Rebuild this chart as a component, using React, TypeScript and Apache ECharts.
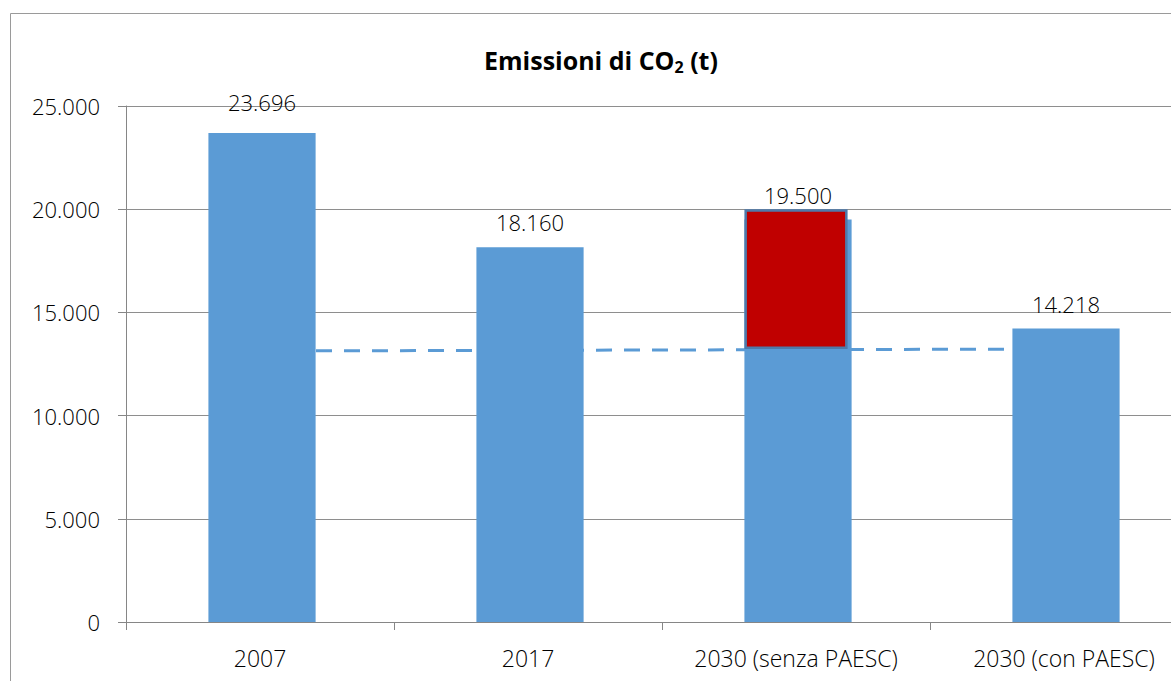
import React, { useEffect, useRef } from "react";
import * as echarts from "echarts";

const categories = ["2007", "2017", "2030 (senza PAESC)", "2030 (con PAESC)"];
const emissions = [23696, 18160, 19500, 14218];
const reductionBase = [null, null, 13230, null];
const reductionSize = [null, null, 6770, null];
const trendLine = [13130, null, null, 13227];
const yMin = 0;
const yMax = 25000;
const yStep = 5000;

const fmt = (n: number) => String(Math.round(n)).replace(/\B(?=(\d{3})+(?!\d))/g, ".");
const FONT = "'Open Sans', 'Liberation Sans', sans-serif";

export default function App() {
  const ref = useRef<HTMLDivElement>(null);
  useEffect(() => {
    if (!ref.current) return;
    const chart = echarts.init(ref.current, null, { renderer: "svg" });
    chart.setOption({
      animation: false,
      backgroundColor: "#ffffff",
      textStyle: { fontFamily: FONT },
      graphic: [
        {
          type: "rect",
          shape: { x: 10.5, y: 13.5, width: 1400, height: 900 },
          style: { fill: "none", stroke: "#9a9a9a", lineWidth: 1 },
          silent: true,
        },
        {
          type: "text",
          x: 601,
          y: 60,
          style: {
            text: "{a|Emissioni di CO}{s|2}{a| (t)}",
            align: "center",
            verticalAlign: "middle",
            rich: {
              a: { fontFamily: FONT, fontSize: 25, fontWeight: "bold", fill: "#000", lineHeight: 32 },
              s: { fontFamily: FONT, fontSize: 16, fontWeight: "bold", fill: "#000", padding: [14, 0, 0, 0], lineHeight: 32 },
            },
          },
        },
      ],
      grid: { left: 126, right: 42, top: 106, bottom: 98, containLabel: false },
      xAxis: {
        type: "category",
        data: categories,
        axisLine: { show: true, lineStyle: { color: "#868686", width: 1 } },
        axisTick: { show: true, length: 8, lineStyle: { color: "#868686" } },
        axisLabel: { margin: 24, fontSize: 23, color: "#000", fontFamily: FONT, fontWeight: 300, interval: 0 },
      },
      yAxis: {
        type: "value",
        min: yMin,
        max: yMax,
        interval: yStep,
        axisLine: { show: true, lineStyle: { color: "#868686", width: 1 } },
        axisTick: { show: true, length: 8, lineStyle: { color: "#868686" } },
        splitLine: { show: true, lineStyle: { color: "#8e8e8e", width: 1 } },
        axisLabel: { margin: 26, fontSize: 22, color: "#000", fontFamily: FONT, fontWeight: 300, formatter: (v: number) => fmt(v) },
      },
      series: [
        {
          type: "line",
          data: trendLine,
          connectNulls: true,
          symbol: "none",
          z: 1,
          lineStyle: { color: "#5B9BD5", width: 3, type: [16, 12] },
        },
        {
          type: "bar",
          data: emissions.map((v, i) => ({
            value: v,
            label: { distance: i === 0 ? 20 : 14 },
          })),
          barWidth: "40%",
          barGap: "-100%",
          z: 2,
          itemStyle: { color: "#5B9BD5" },
          label: {
            show: true,
            position: "top",
            fontSize: 22,
            fontFamily: FONT,
            fontWeight: 300,
            color: "#000",
            formatter: (p: any) => fmt(p.value),
          },
        },
        {
          type: "bar",
          stack: "red",
          data: reductionBase,
          barWidth: "38.5%",
          z: 3,
          itemStyle: { color: "rgba(0,0,0,0)" },
          silent: true,
        },
        {
          type: "bar",
          stack: "red",
          data: reductionSize,
          barWidth: "38.5%",
          z: 3,
          itemStyle: { color: "#C00000", borderColor: "#4e7aaa", borderWidth: 2.5 },
        },
      ],
    });
    return () => chart.dispose();
  }, []);
  return (
    <div style={{ position: "fixed", left: 0, top: 0, width: 1171, height: 681, overflow: "hidden", background: "#fff" }}>
      <div ref={ref} style={{ width: 1240, height: 720 }} />
    </div>
  );
}
